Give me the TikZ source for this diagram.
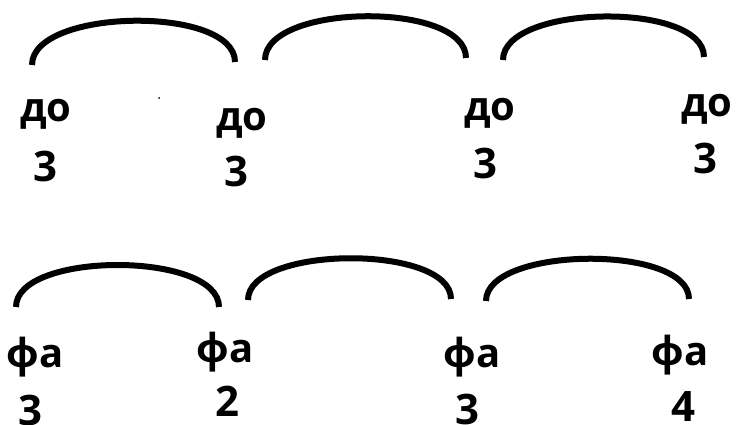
\documentclass[tikz,border=0pt]{standalone}
\usepackage{fontspec}
\setmainfont{Open Sans}
\usepackage{tikz}
\tikzstyle{slur} = [line width=6pt]
\tikzstyle{note} = [font=\fontsize{40}{44}\selectfont\bfseries, inner sep=0pt]
\tikzstyle{octave} = [font=\fontsize{42}{46}\selectfont\bfseries, inner sep=0pt]

\begin{document}
\begin{tikzpicture}[x=1pt,y=-1pt]
	\useasboundingbox (0,0) rectangle (739,425);
	%do row
	\node[note] (do1) at (46,114) {до};
	\node[octave] (do1n) at (45,166) {3};
	\node[note] (do2) at (242,123) {до};
	\node[octave] (do2n) at (236,171) {3};
	\node[note] (do3) at (490,113) {до};
	\node[octave] (do3n) at (485,163) {3};
	\node[note] (do4) at (707,109) {до};
	\node[octave] (do4n) at (705,158) {3};
	\fill (159,98) circle (1);
	%slurs over do
	\coordinate (s1a) at (32,65);
	\coordinate (s1b) at (235,62);
	\coordinate (s2a) at (265,60);
	\coordinate (s2b) at (466,58);
	\coordinate (s3a) at (503,60);
	\coordinate (s3b) at (704,57);
	\draw[slur] (s1a) .. controls +(0,-57) and +(0,-57) .. (s1b);
	\draw[slur] (s2a) .. controls +(0,-57) and +(0,-57) .. (s2b);
	\draw[slur] (s3a) .. controls +(0,-56) and +(0,-56) .. (s3b);
	%fa row
	\node[note] (fa1) at (35,357) {фа};
	\node[octave] (fa1n) at (30,410) {3};
	\node[note] (fa2) at (225,352) {фа};
	\node[octave] (fa2n) at (227,401) {2};
	\node[note] (fa3) at (472,357) {фа};
	\node[octave] (fa3n) at (467,409) {3};
	\node[note] (fa4) at (680,355) {фа};
	\node[octave] (fa4n) at (683,407) {4};
	%slurs over fa
	\coordinate (f1a) at (16,307);
	\coordinate (f1b) at (219,307);
	\coordinate (f2a) at (248,300);
	\coordinate (f2b) at (451,299);
	\coordinate (f3a) at (486,301);
	\coordinate (f3b) at (689,299);
	\draw[slur] (f1a) .. controls +(0,-56) and +(0,-56) .. (f1b);
	\draw[slur] (f2a) .. controls +(0,-55) and +(0,-55) .. (f2b);
	\draw[slur] (f3a) .. controls +(0,-55) and +(0,-55) .. (f3b);
\end{tikzpicture}
\end{document}
